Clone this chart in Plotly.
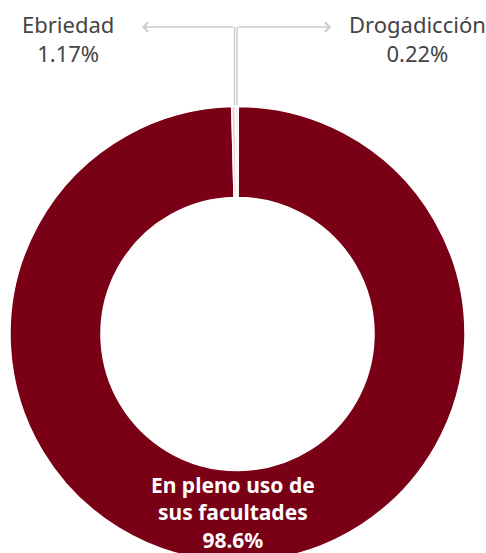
import plotly.graph_objects as go

# Donut: share of cases by condition
labels = ["En pleno uso de sus facultades", "Ebriedad", "Drogadicción"]
percent_text = ["98.6%", "1.17%", "0.22%"]
# slice sizes as they appear drawn in the picture (small slices are tiny)
slice_values = [98.6, 0.25, 0.2]
slice_colors = ["#7a0016", "#f6c9ce", "#fbe3e6"]

W, H = 486, 562
FONT = "Noto Sans"
LABEL_COLOR = "#444444"
LINE_COLOR = "#cccccc"


def fx(px):
    return px / W


def fy(py):
    return 1 - py / H


fig = go.Figure(go.Pie(
    labels=labels,
    values=slice_values,
    hole=0.6,
    sort=False,
    direction="clockwise",
    rotation=0.2,
    textinfo="none",
    marker=dict(colors=slice_colors, line=dict(color="white", width=1.5)),
    domain=dict(x=[fx(10), fx(465)], y=[0, fy(106)]),
    hovertemplate="%{label}<extra></extra>",
))

# leader lines from the top of the ring up to the labels
for lx in (234.5, 237):
    fig.add_shape(type="line", xref="paper", yref="paper",
                  x0=fx(lx), x1=fx(lx), y0=fy(27), y1=fy(105),
                  line=dict(color=LINE_COLOR, width=1.5))

for end_x, start_x in ((142, 234.5), (331, 237)):
    fig.add_annotation(xref="paper", yref="paper", x=fx(end_x), y=fy(27),
                       ax=start_x - end_x, ay=0, text="", showarrow=True,
                       arrowhead=4, arrowsize=1.2, arrowwidth=1.5,
                       arrowcolor=LINE_COLOR, standoff=0, startstandoff=0)

fig.add_annotation(xref="paper", yref="paper", x=fx(68), y=fy(39),
                   text=f"{labels[1]}<br>{percent_text[1]}", showarrow=False,
                   xanchor="center", yanchor="middle",
                   font=dict(family=FONT, size=22, color=LABEL_COLOR))
fig.add_annotation(xref="paper", yref="paper", x=fx(417), y=fy(39),
                   text=f"{labels[2]}<br>{percent_text[2]}", showarrow=False,
                   xanchor="center", yanchor="middle",
                   font=dict(family=FONT, size=22, color=LABEL_COLOR))

fig.add_annotation(xref="paper", yref="paper", x=fx(233), y=fy(512),
                   text=f"<b>En pleno uso de<br>sus facultades<br>{percent_text[0]}</b>",
                   showarrow=False, xanchor="center", yanchor="middle",
                   font=dict(family=FONT, size=21, color="white"))

fig.update_layout(
    width=W, height=H,
    margin=dict(l=0, r=0, t=0, b=0),
    paper_bgcolor="white",
    plot_bgcolor="white",
    showlegend=False,
)

fig.write_html("out.html",
               config={"displayModeBar": False},
               post_script="document.body.style.margin='0';"
                           "document.body.style.overflow='hidden';"
                           "document.documentElement.style.overflow='hidden';")
